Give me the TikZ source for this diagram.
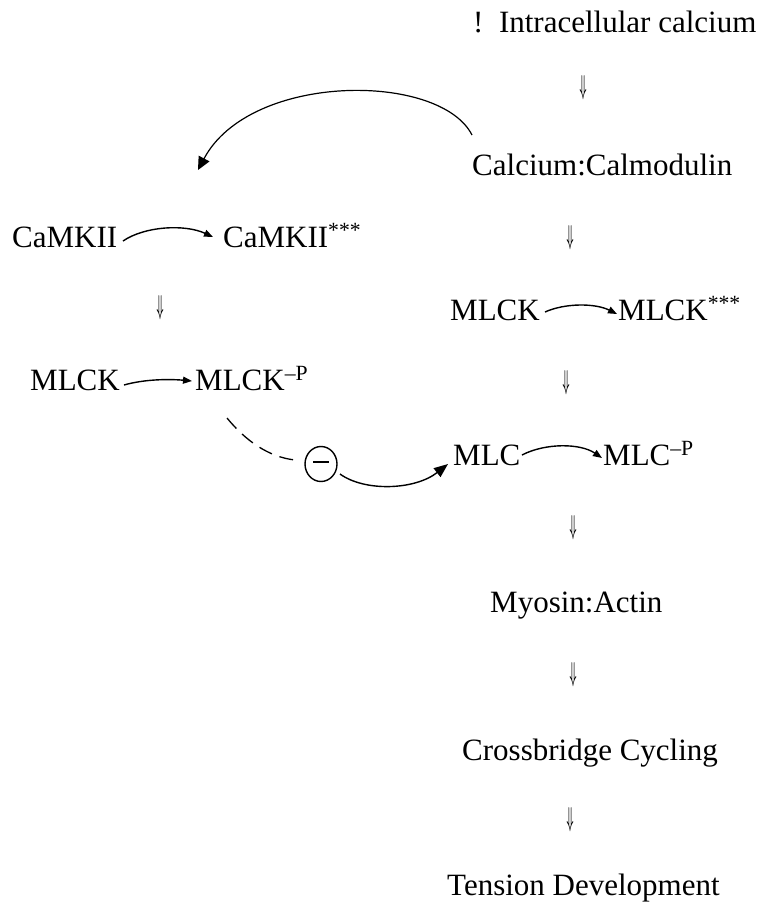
\documentclass[tikz,border=0pt]{standalone}
\usepackage{fontspec}
\usepackage{graphicx}
\setmainfont{Liberation Serif}
\usetikzlibrary{arrows.meta,shapes.geometric}
\begin{document}
\begin{tikzpicture}[x=1pt,y=1pt,
  lbl/.style={anchor=base west,inner sep=0pt,font=\fontsize{31}{36}\selectfont},
  dn/.style={inner sep=0pt,font=\fontsize{28}{30}\selectfont\boldmath},
  conn/.style={line width=1.4pt,-{Triangle[length=9pt,width=7pt]}},
  bigconn/.style={line width=1.4pt,-{Triangle[length=14pt,width=11pt]}}
]
\useasboundingbox[fill=white] (0,0) rectangle (760,-914);
% labels
\node[lbl] (ica) at (473,-32) {!\, Intracellular calcium};
\node[lbl] (calm) at (472,-175) {Calcium:Calmodulin};
\node[lbl] (camk) at (12,-247) {CaMKII};
\node[lbl] (camka) at (223,-247) {CaMKII\textsuperscript{***}};
\node[lbl] (mlckL) at (30,-390) {MLCK};
\node[lbl] (mlckLp) at (195,-390) {MLCK\textsuperscript{--P}};
\node[lbl] (mlckR) at (450,-320) {MLCK};
\node[lbl] (mlckRa) at (618,-320) {MLCK\textsuperscript{***}};
\node[lbl] (mlc) at (453,-465) {MLC};
\node[lbl] (mlcp) at (603,-465) {MLC\textsuperscript{--P}};
\node[lbl] (myo) at (490,-612) {Myosin:Actin};
\node[lbl] (cross) at (462,-760) {Crossbridge Cycling};
\node[lbl] (tens) at (447,-895) {Tension Development};
% small double down arrows
\node[dn] (d1) at (583,-88) {\scalebox{0.4}[1.1]{$\Downarrow$}};
\node[dn] (d2) at (570,-238) {\scalebox{0.4}[1.1]{$\Downarrow$}};
\node[dn] (d3) at (160,-308) {\scalebox{0.4}[1.1]{$\Downarrow$}};
\node[dn] (d4) at (566,-383) {\scalebox{0.4}[1.1]{$\Downarrow$}};
\node[dn] (d5) at (573,-528) {\scalebox{0.4}[1.1]{$\Downarrow$}};
\node[dn] (d6) at (573,-675) {\scalebox{0.4}[1.1]{$\Downarrow$}};
\node[dn] (d7) at (570,-820) {\scalebox{0.4}[1.1]{$\Downarrow$}};
% inhibition symbol
\node[ellipse,draw,line width=1.4pt,minimum width=32pt,minimum height=35pt,inner sep=0pt] (minus) at (321,-464) {};
\draw[line width=2.2pt] ([xshift=-8pt,yshift=2pt]minus.center) -- ([xshift=8pt,yshift=2pt]minus.center);
% connector end points
\coordinate (c1s) at (472,-135);
\coordinate (c1e) at (198,-170);
\coordinate (c2s) at (123,-241);
\coordinate (c2e) at (213,-237);
\coordinate (c3s) at (124,-385);
\coordinate (c3e) at (192,-381);
\coordinate (c4s) at (545,-312);
\coordinate (c4e) at (617,-314);
\coordinate (c5s) at (227,-418);
\coordinate (c5e) at (295,-460);
\coordinate (c6s) at (340,-474);
\coordinate (c6e) at (448,-464);
\coordinate (c7s) at (522,-455);
\coordinate (c7e) at (602,-458);
% connectors
\draw[line width=1.2pt,-{Triangle[length=13pt,width=12pt]}] (c1s) .. controls (440,-72) and (250,-72) .. (c1e);
\draw[conn] (c2s) .. controls (145,-226) and (185,-224) .. (c2e);
\draw[conn] (c3s) .. controls (145,-379) and (170,-379) .. (c3e);
\draw[conn] (c4s) .. controls (565,-303) and (595,-303) .. (c4e);
\draw[line width=1.3pt,dash pattern=on 14pt off 8pt] (c5s) .. controls (245,-440) and (268,-457) .. (c5e);
\draw[bigconn] (c6s) .. controls (365,-492) and (415,-490) .. (c6e);
\draw[conn] (c7s) .. controls (545,-443) and (580,-443) .. (c7e);
\end{tikzpicture}
\end{document}
